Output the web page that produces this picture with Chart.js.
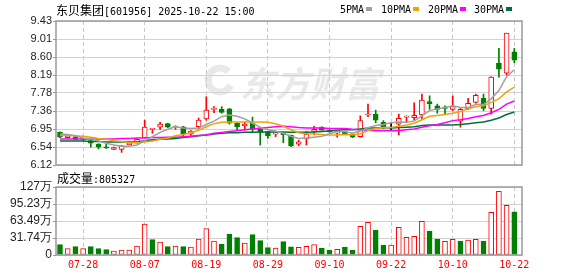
<!DOCTYPE html>
<html><head><meta charset="utf-8">
<script src="https://cdn.jsdelivr.net/npm/chart.js@4.4.1/dist/chart.umd.min.js"></script>
<style>
html,body{margin:0;padding:0;background:#fff;}
#wrap{position:relative;width:578px;height:276px;overflow:hidden;background:#fff;}
canvas{position:absolute;left:0;}
.t{position:absolute;white-space:nowrap;font-family:"DejaVu Sans Mono",monospace;font-size:10px;color:#000;line-height:14px;}
.cjk{font-family:"Noto Sans CJK SC";font-size:12px;}
.sq{display:inline-block;width:6px;height:4px;margin-left:2px;vertical-align:middle;position:relative;top:-1px;}
</style></head>
<body>
<div id="wrap">
  <canvas id="price" width="578" height="175" style="top:0;width:578px;height:175px"></canvas>
  <canvas id="vol" width="578" height="106" style="top:170px;width:578px;height:106px"></canvas>
  <div class="t" style="left:56px;top:3px"><span class="cjk">东贝集团</span>[601956] 2025-10-22 15:00</div>
  <div class="t" style="left:340px;top:3px">5PMA<span class="sq" style="background:#a0a0a0"></span></div>
  <div class="t" style="left:381px;top:3px">10PMA<span class="sq" style="background:#f0a30a"></span></div>
  <div class="t" style="left:428px;top:3px">20PMA<span class="sq" style="background:#ff00ff"></span></div>
  <div class="t" style="left:474px;top:3px">30PMA<span class="sq" style="background:#00703a"></span></div>
  <div class="t" style="left:57px;top:171px"><span class="cjk">成交量</span>:805327</div>
</div>
<script>
const dates = ['07-23','07-24','07-25','07-28','07-29','07-30','07-31','08-01','08-04','08-05','08-06','08-07','08-08','08-11','08-12','08-13','08-14','08-15','08-18','08-19','08-20','08-21','08-22','08-25','08-26','08-27','08-28','08-29','09-01','09-02','09-03','09-04','09-05','09-08','09-09','09-10','09-11','09-12','09-15','09-16','09-17','09-18','09-19','09-22','09-23','09-24','09-25','09-26','09-29','09-30','10-09','10-10','10-13','10-14','10-15','10-16','10-17','10-20','10-21','10-22'];
const dateTicks = ['07-28','08-07','08-19','08-29','09-10','09-22','10-10','10-22'];

const openP  = [6.87,6.75,6.77,6.72,6.68,6.60,6.54,6.48,6.48,6.59,6.63,6.75,6.94,6.99,7.07,6.99,7.00,6.83,7.00,7.18,7.40,7.40,7.41,7.08,7.02,7.08,6.94,6.89,6.83,6.85,6.81,6.60,6.72,6.89,6.99,6.92,6.85,6.88,6.83,6.77,7.27,7.29,7.10,6.97,7.06,7.22,7.21,7.27,7.58,7.48,7.44,7.40,7.13,7.41,7.56,7.65,7.42,8.46,8.23,8.72];
const highP  = [6.88,6.80,6.78,6.74,6.69,6.61,6.60,6.53,6.57,6.63,6.72,7.15,6.96,7.10,7.08,7.02,7.01,6.91,7.20,7.69,7.46,7.46,7.42,7.09,7.11,7.22,6.96,6.89,6.86,6.86,6.81,6.69,6.89,7.01,7.00,6.93,6.89,6.89,6.83,7.25,7.52,7.38,7.14,7.09,7.29,7.25,7.55,7.75,7.71,7.52,7.48,7.71,7.42,7.65,7.75,7.75,8.15,8.80,9.15,8.80];
const lowP   = [6.75,6.74,6.70,6.68,6.53,6.49,6.50,6.47,6.41,6.58,6.62,6.74,6.85,6.94,6.98,6.94,6.77,6.80,6.95,7.15,7.32,7.31,7.06,6.92,6.92,6.87,6.58,6.73,6.77,6.63,6.54,6.56,6.58,6.81,6.92,6.87,6.76,6.82,6.75,6.76,7.23,7.09,6.96,6.91,6.81,7.09,7.16,7.17,7.40,7.31,7.29,7.37,6.99,7.40,7.54,7.37,7.29,8.14,8.19,8.47];
const closeP = [6.76,6.79,6.71,6.71,6.62,6.53,6.51,6.52,6.56,6.62,6.71,6.99,6.95,7.06,6.99,7.00,6.83,6.90,7.15,7.38,7.41,7.33,7.08,7.00,7.06,6.94,6.87,6.79,6.85,6.81,6.56,6.65,6.83,6.94,6.92,6.88,6.88,6.83,6.76,7.14,7.29,7.15,6.97,6.97,7.19,7.24,7.26,7.61,7.53,7.40,7.42,7.46,7.40,7.54,7.72,7.42,8.14,8.32,9.15,8.53];

const ma5  = [6.83,6.82,6.79,6.74,6.72,6.67,6.62,6.58,6.55,6.55,6.58,6.68,6.77,6.87,6.94,7.00,6.97,6.96,6.97,7.05,7.13,7.23,7.27,7.24,7.18,7.08,6.99,6.93,6.90,6.85,6.78,6.73,6.74,6.76,6.78,6.84,6.89,6.89,6.85,6.90,6.98,7.03,7.05,7.09,7.11,7.10,7.13,7.25,7.37,7.41,7.44,7.48,7.44,7.44,7.51,7.51,7.64,7.83,8.15,8.31];
const ma10 = [6.80,6.80,6.79,6.78,6.76,6.73,6.71,6.68,6.66,6.63,6.63,6.65,6.67,6.71,6.74,6.79,6.82,6.86,6.92,7.00,7.07,7.10,7.11,7.11,7.11,7.11,7.11,7.10,7.07,7.01,6.93,6.86,6.84,6.83,6.82,6.81,6.81,6.82,6.81,6.84,6.91,6.96,6.98,6.98,7.01,7.04,7.08,7.16,7.24,7.26,7.28,7.31,7.35,7.41,7.46,7.48,7.56,7.64,7.80,7.91];
const ma20 = [6.72,6.72,6.72,6.72,6.72,6.72,6.72,6.72,6.73,6.73,6.74,6.74,6.75,6.75,6.76,6.76,6.77,6.78,6.80,6.81,6.85,6.87,6.89,6.91,6.93,6.95,6.97,6.98,7.00,7.01,7.00,6.98,6.97,6.97,6.97,6.96,6.96,6.96,6.94,6.93,6.92,6.91,6.91,6.91,6.91,6.93,6.95,6.99,7.02,7.05,7.09,7.14,7.16,7.19,7.23,7.26,7.32,7.40,7.52,7.59];
const ma30 = [6.67,6.67,6.67,6.67,6.66,6.66,6.65,6.65,6.65,6.65,6.65,6.68,6.70,6.71,6.72,6.73,6.75,6.77,6.79,6.81,6.83,6.85,6.86,6.86,6.87,6.87,6.88,6.88,6.88,6.88,6.87,6.87,6.87,6.88,6.89,6.90,6.92,6.93,6.93,6.95,6.97,6.97,6.98,6.97,6.98,6.99,7.00,7.03,7.04,7.04,7.04,7.04,7.05,7.07,7.09,7.11,7.15,7.20,7.28,7.34];

// volume in 万 shares
const volume = [19.3,11.8,15.6,11.8,15.6,11.8,10.0,7.5,9.3,9.3,16.8,57.9,28.6,24.3,15.6,16.8,15.6,15.0,29.9,49.2,26.1,20.5,39.2,32.4,22.4,38.0,26.8,13.7,13.1,24.9,15.3,14.3,16.2,19.3,13.1,9.3,10.6,15.0,9.3,53.5,61.0,46.7,18.7,18.7,51.7,33.0,34.9,62.9,44.8,29.9,25.5,29.2,26.1,28.0,29.2,26.1,79.7,118.9,92.7,80.53];

const priceTickLabels = ['6.12','6.54','6.95','7.36','7.78','8.19','8.60','9.01','9.43'];
const priceMin = 6.12, priceMax = 9.43;
const volTickLabels = ['0','31.74万','63.49万','95.23万','127万'];
const volMax = 126.96;

const RED = '#ff0000', GREEN = '#008000', GRIDC = '#d2d2d2', DASHC = '#c8c8c8';
const tickIdx = dateTicks.map(d => dates.indexOf(d));
const X_MIN = -0.52, X_MAX = 60.0;

const candleColor = dates.map((d,i) => closeP[i] > openP[i] ? RED : (closeP[i] < openP[i] ? GREEN : '#000000'));
const bodyFill = dates.map((d,i) => closeP[i] > openP[i] ? '#ffffff' : candleColor[i]);
const volUp = dates.map((d,i) => i === 0 ? closeP[0] >= openP[0] : closeP[i] >= closeP[i-1]);
const volColor = volUp.map(u => u ? RED : GREEN);
const volFill = volUp.map(u => u ? '#ffffff' : GREEN);

const framePlugin = {
  id: 'frame',
  afterDatasetsDraw(chart) {
    const {ctx, chartArea: a} = chart;
    ctx.save();
    ctx.strokeStyle = '#9a9a9a';
    ctx.lineWidth = 1.5;
    ctx.strokeRect(a.left, a.top, a.right - a.left, a.bottom - a.top);
    ctx.restore();
  }
};
const watermarkPlugin = {
  id: 'wm',
  beforeDraw(chart) {
    const ctx = chart.ctx;
    ctx.save();
    ctx.fillStyle = '#e9e9e9';
    ctx.strokeStyle = '#e9e9e9';
    ctx.lineWidth = 7;
    ctx.beginPath();
    ctx.arc(220, 80, 12, Math.PI * 0.15, Math.PI * 1.75);
    ctx.stroke();
    ctx.font = 'italic bold 35px "Noto Sans CJK SC"';
    ctx.textBaseline = 'alphabetic';
    ctx.fillText('东方财富', 240, 97);
    ctx.restore();
  }
};

const xGridCommon = {
  type: 'linear', min: X_MIN, max: X_MAX, bounds: 'data', offset: false,
  afterBuildTicks: s => { s.ticks = tickIdx.map(v => ({value: v})); },
  grid: { color: DASHC, lineWidth: 1, drawTicks: false, offset: false },
  border: { display: false, dash: [4, 3] }
};

const pts = arr => arr.map((v, i) => ({x: i, y: v}));
const maLine = (label, arr, color) => ({
  type: 'line', label, data: pts(arr), borderColor: color, borderWidth: 1.5,
  pointRadius: 0, tension: 0, order: -1, fill: false
});

new Chart(document.getElementById('price'), {
  type: 'bar',
  data: {
    datasets: [
      maLine('MA5', ma5, '#a0a0a0'),
      maLine('MA10', ma10, '#f0a30a'),
      maLine('MA20', ma20, '#ff00ff'),
      maLine('MA30', ma30, '#00703a'),
      {
        label: 'body', data: dates.map((d,i) => ({x: i, y: [openP[i], closeP[i]]})),
        backgroundColor: bodyFill, borderColor: candleColor, borderWidth: 1,
        borderSkipped: false, barThickness: 5, grouped: false, minBarLength: 1, order: 0
      },
      {
        label: 'wick', data: dates.map((d,i) => ({x: i, y: [lowP[i], highP[i]]})),
        backgroundColor: candleColor, borderWidth: 0, barThickness: 1, grouped: false, order: 1
      }
    ]
  },
  options: {
    responsive: false, animation: false, events: [],
    layout: { padding: { left: 0, right: 56, top: 21, bottom: 10 } },
    plugins: { legend: { display: false }, tooltip: { enabled: false } },
    scales: {
      x: Object.assign({}, xGridCommon, {
        ticks: { display: false },
        afterFit: s => { s.height = 0; }
      }),
      y: {
        type: 'linear', min: priceMin, max: priceMax, bounds: 'data',
        afterBuildTicks: s => { s.ticks = priceTickLabels.map((t,k) => ({value: priceMin + k * (priceMax - priceMin) / (priceTickLabels.length - 1)})); },
        afterFit: s => { s.width = 56; },
        ticks: {
          autoSkip: false, padding: 1, color: '#222',
          font: { family: 'Liberation Sans', size: 11 },
          callback: (v, i) => priceTickLabels[i]
        },
        grid: { color: GRIDC, tickLength: 3, tickColor: '#999', drawTicks: true },
        border: { display: false }
      }
    }
  },
  plugins: [watermarkPlugin, framePlugin]
});

new Chart(document.getElementById('vol'), {
  type: 'bar',
  data: {
    datasets: [{
      label: 'volume', data: dates.map((d,i) => ({x: i, y: volume[i]})),
      backgroundColor: volFill, borderColor: volColor, borderWidth: 1,
      borderSkipped: false, barThickness: 5, grouped: false
    }]
  },
  options: {
    responsive: false, animation: false, events: [],
    layout: { padding: { left: 0, right: 56, top: 17, bottom: 0 } },
    plugins: { legend: { display: false }, tooltip: { enabled: false } },
    scales: {
      x: Object.assign({}, xGridCommon, {
        ticks: {
          autoSkip: false, maxRotation: 0, padding: 4, color: RED,
          font: { family: 'DejaVu Sans Mono', size: 10 },
          callback: v => dates[v]
        },
        afterFit: s => { s.height = 21; }
      }),
      y: {
        type: 'linear', min: 0, max: volMax, bounds: 'data',
        afterBuildTicks: s => { s.ticks = volTickLabels.map((t,k) => ({value: k * volMax / (volTickLabels.length - 1)})); },
        afterFit: s => { s.width = 56; },
        ticks: {
          autoSkip: false, padding: 1, color: '#222',
          font: { family: 'Liberation Sans', size: 12 },
          callback: (v, i) => volTickLabels[i]
        },
        grid: { color: GRIDC, tickLength: 3, tickColor: '#999', drawTicks: true },
        border: { display: false }
      }
    }
  },
  plugins: [framePlugin]
});
</script>
</body></html>
